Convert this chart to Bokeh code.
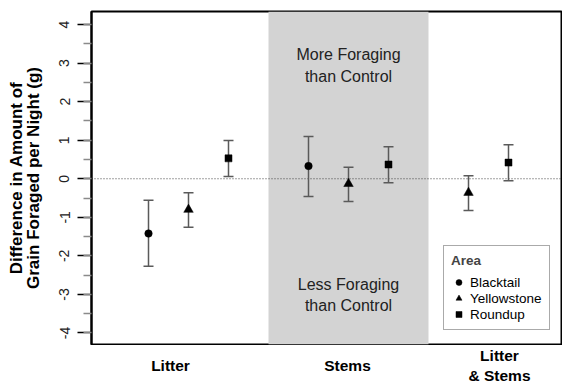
import math
from bokeh.plotting import figure
from bokeh.layouts import column
from bokeh.models import (ColumnDataSource, Whisker, TeeHead, Span, BoxAnnotation,
                          Label, Legend, LegendItem, SingleIntervalTicker, Range1d)
from bokeh.core.properties import value
from bokeh.embed import file_html
from bokeh.resources import INLINE

# ---------------- data ----------------
treatments = ["Litter", "Stems", "Litter & Stems"]
treatment_labels = ["Litter", "Stems", "Litter\n& Stems"]
group_start = [0, 4, 7]          # x position of the first slot of each treatment group
areas = ["Blacktail", "Yellowstone", "Roundup"]
area_slot = [0, 1, 2]            # slot within a group
legend_title = "Area"

blacktail_treat = ["Litter", "Stems"]
blacktail_mean = [-1.42, 0.33]
blacktail_lower = [-2.27, -0.46]
blacktail_upper = [-0.56, 1.10]

yellowstone_treat = ["Litter", "Stems", "Litter & Stems"]
yellowstone_mean = [-0.80, -0.13, -0.36]
yellowstone_lower = [-1.26, -0.59, -0.82]
yellowstone_upper = [-0.36, 0.30, 0.08]

roundup_treat = ["Litter", "Stems", "Litter & Stems"]
roundup_mean = [0.53, 0.37, 0.42]
roundup_lower = [0.06, -0.10, -0.05]
roundup_upper = [0.99, 0.83, 0.88]

y_tick_values = [-4, -3, -2, -1, 0, 1, 2, 3, 4]
highlight_treatment = "Stems"
band_label_top = "More Foraging\nthan Control"
band_label_bottom = "Less Foraging\nthan Control"

# ---------------- layout / style ----------------
FONT = "Liberation Sans"
label_x = [0.55, 4.975, 8.775]

x_range = Range1d(-1.425, 10.325)
p = figure(width=562, height=345, output_backend="svg", toolbar_location=None,
           x_range=x_range, y_range=Range1d(-4.30, 4.34),
           min_border_left=91, min_border_right=1, min_border_top=11, min_border_bottom=1)
p.background_fill_color = "white"
p.border_fill_color = "white"
p.xgrid.visible = False
p.ygrid.visible = False
p.outline_line_color = "black"
p.outline_line_width = 2
p.xaxis.visible = False

ya = p.yaxis[0]
ya.ticker = SingleIntervalTicker(interval=1, num_minor_ticks=2)
ya.major_label_overrides = {v: str(v) for v in y_tick_values}
ya.axis_line_color = "black"
ya.axis_line_width = 2
ya.major_tick_out = 14
ya.major_tick_in = 0
ya.minor_tick_out = 8
ya.minor_tick_in = 0
ya.major_tick_line_color = "black"
ya.major_tick_line_width = 1.5
ya.minor_tick_line_color = "#8a8a8a"
ya.minor_tick_line_width = 1.5
ya.major_label_orientation = "parallel"
ya.major_label_text_font = FONT
ya.major_label_text_font_size = "14px"
ya.major_label_text_color = "#222222"
ya.major_label_standoff = 8
ya.axis_label = "Difference in Amount of\nGrain Foraged per Night (g)"
ya.axis_label_text_font = FONT
ya.axis_label_text_font_size = "17px"
ya.axis_label_text_font_style = "bold"
ya.axis_label_text_color = "black"
ya.axis_label_text_line_height = 0.85
ya.axis_label_standoff = 14

# highlighted band for the Stems group
gi = treatments.index(highlight_treatment)
band = BoxAnnotation(left=group_start[gi] - 1, right=group_start[gi] + 3,
                     fill_color="#d3d3d3", fill_alpha=1.0, line_color=None, level="underlay")
p.add_layout(band)

zero = Span(location=0, dimension="width", line_color="#444444", line_width=1.2,
            line_dash="1 2", level="underlay")
p.add_layout(zero)


def positions(treat_list, slot):
    return [group_start[treatments.index(t)] + slot for t in treat_list]


series = [
    ("Blacktail", blacktail_treat, blacktail_mean, blacktail_lower, blacktail_upper, "circle", 7.5),
    ("Yellowstone", yellowstone_treat, yellowstone_mean, yellowstone_lower, yellowstone_upper, "triangle", 9.5),
    ("Roundup", roundup_treat, roundup_mean, roundup_lower, roundup_upper, "square", 7),
]

renderers = {}
for name, treat, mean, lower, upper, marker, size in series:
    slot = area_slot[areas.index(name)]
    src = ColumnDataSource(dict(x=positions(treat, slot), y=mean, lower=lower, upper=upper))
    w = Whisker(source=src, base="x", upper="upper", lower="lower", dimension="height",
                line_color="#5a5a5a", line_width=1.5,
                upper_head=TeeHead(size=10, line_color="#5a5a5a", line_width=1.5),
                lower_head=TeeHead(size=10, line_color="#5a5a5a", line_width=1.5))
    p.add_layout(w)
    r = p.scatter("x", "y", source=src, marker=marker, size=size,
                  fill_color="black", line_color="black", line_width=0.5)
    renderers[name] = r

for txt, yy in [(band_label_top, 2.94), (band_label_bottom, -3.01)]:
    p.add_layout(Label(x=group_start[gi] + 1, y=yy, text=txt, text_align="center",
                       text_baseline="middle", text_font=FONT, text_font_size="16px",
                       text_color="#222222", text_line_height=1.25))

legend = Legend(items=[LegendItem(label=a, renderers=[renderers[a]]) for a in areas],
                location=(352, 14), title=legend_title,
                title_text_font=FONT, title_text_font_size="13.5px", title_text_font_style="bold",
                title_standoff=6,
                label_text_font=FONT, label_text_font_size="13.5px", label_text_color="black",
                label_height=16, spacing=0, glyph_width=15, glyph_height=16, label_standoff=4,
                padding=7, border_line_color="#555555", border_line_width=1,
                background_fill_color="white", background_fill_alpha=1.0)
p.add_layout(legend)

# ---- strip below the frame holding the category labels ----
p2 = figure(width=562, height=39, output_backend="svg", toolbar_location=None,
            x_range=x_range, y_range=Range1d(0, 39),
            min_border_left=91, min_border_right=1, min_border_top=0, min_border_bottom=0)
p2.axis.visible = False
p2.grid.visible = False
p2.outline_line_color = None
p2.background_fill_color = "white"
p2.border_fill_color = "white"
p2.text(x=label_x, y=[19, 19, 19], text=treatment_labels, text_align="center",
        text_baseline="middle", text_font=value(FONT), text_font_size="15.5px",
        text_font_style="bold", text_color="black", text_line_height=1.2)

layout = column(p, p2, spacing=0)
open("out.html", "w").write(file_html(layout, INLINE))
